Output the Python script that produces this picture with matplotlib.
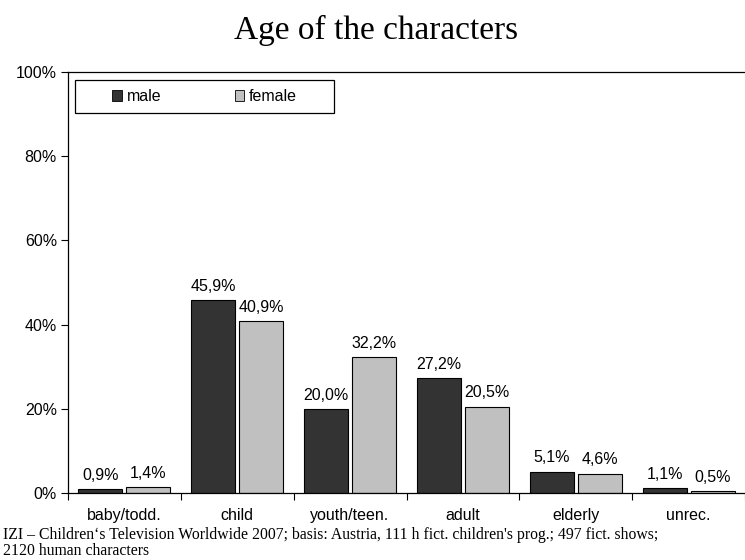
import matplotlib
matplotlib.use("Agg")
import matplotlib.pyplot as plt
import numpy as np
from matplotlib.patches import Patch, Rectangle

categories = ["baby/todd.", "child", "youth/teen.", "adult", "elderly", "unrec."]
male = [0.9, 45.9, 20.0, 27.2, 5.1, 1.1]
female = [1.4, 40.9, 32.2, 20.5, 4.6, 0.5]
yticks = [0, 20, 40, 60, 80, 100]

male_color = "#333333"
female_color = "#c0c0c0"
sans = "Liberation Sans"
serif = "Liberation Serif"
fs = 11.5

fig = plt.figure(figsize=(7.45, 5.6), dpi=100)
ax = fig.add_axes([68/745, 1-493/560, 677/745, 421/560])

x = np.arange(len(categories))
w = 0.39
gap = 0.035
bm = ax.bar(x - w/2 - gap/2, male, w, color=male_color, edgecolor="black", linewidth=0.8)
bf = ax.bar(x + w/2 + gap/2, female, w, color=female_color, edgecolor="black", linewidth=0.8)

def fmt(v):
    return f"{v:.1f}%".replace(".", ",")

for bars, vals in ((bm, male), (bf, female)):
    for b, v in zip(bars, vals):
        ax.annotate(fmt(v), (b.get_x() + b.get_width()/2, v), xytext=(0, 4.5),
                    textcoords="offset points", ha="center", va="bottom",
                    fontsize=fs, family=sans)

ax.set_xlim(-0.5, len(categories) - 0.5)
ax.set_ylim(0, 100)
ax.set_yticks(yticks)
ax.set_yticklabels([f"{t}%" for t in yticks], fontsize=fs, family=sans)
ax.set_xticks(np.arange(len(categories) + 1) - 0.5)
ax.set_xticklabels([])
ax.set_xticks(x, minor=True)
ax.set_xticklabels(categories, minor=True, fontsize=fs, family=sans)
ax.tick_params(axis="x", which="minor", length=0, pad=11)
ax.tick_params(axis="x", which="major", length=5, direction="out")
ax.tick_params(axis="y", length=5, direction="out", pad=3)
ax.spines["right"].set_visible(False)
for s in ax.spines.values():
    s.set_linewidth(0.9)

# legend frame
fx0, fx1 = (75-68)/677, (334-68)/677
fy0, fy1 = (493-113)/421, (493-80)/421
ax.add_patch(Rectangle((fx0, fy0), fx1-fx0, fy1-fy0, transform=ax.transAxes,
                       facecolor="white", edgecolor="black", linewidth=0.9, zorder=5))
handles = [Patch(facecolor=male_color, edgecolor="black", linewidth=0.6, label="male"),
           Patch(facecolor=female_color, edgecolor="black", linewidth=0.6, label="female")]
leg = ax.legend(handles=handles, ncol=2, loc="center",
                bbox_to_anchor=((fx0+fx1)/2, (fy0+fy1)/2),
                frameon=False, prop={"family": sans, "size": fs},
                handlelength=0.62, handleheight=0.62,
                handletextpad=0.3, borderaxespad=0, borderpad=0, columnspacing=4.6)
leg.set_zorder(6)

fig.text(376.5/745, 1 - 30/560, "Age of the characters", ha="center", va="center",
         fontsize=24, family=serif)
fig.text(3/745, 1 - 539/560,
         "IZI \u2013 Children\u2018s Television Worldwide 2007; basis: Austria, 111 h fict. children's prog.; 497 fict. shows;",
         ha="left", va="baseline", fontsize=11.3, family=serif)
fig.text(3/745, 1 - 555/560, "2120 human characters", ha="left", va="baseline",
         fontsize=11.3, family=serif)

fig.savefig("out.png", dpi=100)
